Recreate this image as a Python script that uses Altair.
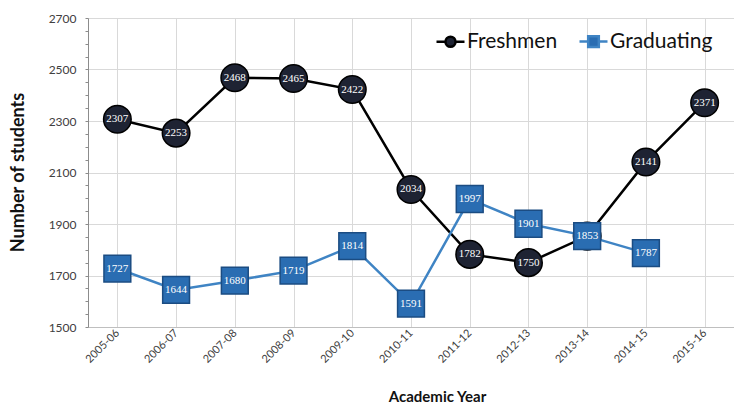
import altair as alt
import pandas as pd

years = ["2005-06", "2006-07", "2007-08", "2008-09", "2009-10", "2010-11",
         "2011-12", "2012-13", "2013-14", "2014-15", "2015-16"]
freshmen = [2307, 2253, 2468, 2465, 2422, 2034, 1782, 1750, 1853, 2141, 2371]
graduating = [1727, 1644, 1680, 1719, 1814, 1591, 1997, 1901, 1853, 1787]
series_names = ["Freshmen", "Graduating"]
y_ticks = [1500, 1700, 1900, 2100, 2300, 2500, 2700]
y_minor = list(range(1500, 2701, 50))

rows = []
for yr, v in zip(years, freshmen):
    rows.append({"year": yr, "series": "Freshmen", "value": v})
for yr, v in zip(years, graduating):
    rows.append({"year": yr, "series": "Graduating", "value": v})
df = pd.DataFrame(rows)

FONT = "Lato"
x_scale = alt.Scale(domain=years, paddingInner=0, paddingOuter=0)
y_scale = alt.Scale(domain=[1500, 2700], nice=False, zero=False)

x_lab = alt.X("year:N", scale=x_scale, sort=years,
              axis=alt.Axis(orient="bottom", title="Academic Year", labelAngle=-45,
                            labelAlign="right", labelBaseline="middle", labelFontSize=11,
                            labelColor="#404040", labelFont=FONT, labelPadding=4, tickSize=0,
                            grid=False, domainColor="#bfbfbf", titleFont=FONT,
                            titleFontSize=15, titleFontWeight="bold", titleColor="#111111",
                            titleX=349, titleY=69, titleBaseline="middle",
                            titleAlign="center", titleAnchor=None))
x_grid = alt.X("year:N", scale=x_scale, sort=years,
               axis=alt.Axis(orient="bottom", title=None, labels=False, ticks=False,
                             domain=False, grid=True, bandPosition=0, gridColor="#d9d9d9"))
x_plain = alt.X("year:N", scale=x_scale, sort=years, axis=None)

y_main = alt.Y("value:Q", scale=y_scale,
               axis=alt.Axis(orient="left", title="Number of students", values=y_ticks,
                             format="d", labelFontSize=12, labelColor="#404040",
                             labelFont=FONT, tickSize=0, labelPadding=12,
                             gridColor="#d9d9d9", domainColor="#8c8c8c", titleFont=FONT,
                             titleFontSize=18, titleFontWeight="bold", titleColor="#111111",
                             titleX=-70, titleY=154, titleBaseline="middle",
                             titleAlign="center", titleAngle=270))
y_ticks_enc = alt.Y("value:Q", scale=y_scale,
                    axis=alt.Axis(orient="left", title=None, values=y_minor, labels=False,
                                  grid=False, domain=False, tickSize=3, tickColor="#8c8c8c",
                                  tickOffset=0))
y_plain = alt.Y("value:Q", scale=y_scale, axis=None)

base = alt.Chart(df)

grid_layer = base.mark_point(opacity=0).encode(x=x_grid, y=y_main)
axis_layer = base.mark_point(opacity=0).encode(x=x_lab, y=y_ticks_enc)

stroke_scale = alt.Scale(domain=series_names, range=["#000000", "#3f84c4"])
fill_scale = alt.Scale(domain=series_names, range=["#1e2333", "#2a6db2"])
circ_path = ("M-1,0H-0.36 M0.36,0H1 M0.36,0A0.36,0.36,0,1,1,-0.36,0"
             "A0.36,0.36,0,1,1,0.36,0Z")
sq_path = "M-1,0H-0.38 M0.38,0H1 M-0.38,-0.38H0.38V0.38H-0.38Z"
shape_scale = alt.Scale(domain=series_names, range=[circ_path, sq_path])

legend = alt.Legend(title=None, orient="none", legendX=347, legendY=8, direction="horizontal",
                    labelFontSize=21, labelFont=FONT, labelColor="#111111",
                    symbolSize=784, symbolStrokeWidth=2.5, columnPadding=16,
                    labelOffset=1, symbolOpacity=1)

lines = base.mark_line(strokeWidth=2.5).encode(
    x=x_plain, y=y_plain,
    stroke=alt.Stroke("series:N", scale=stroke_scale, legend=legend),
    order=alt.Order("series:N", sort="descending"),
)

carrier = base.transform_filter("false").mark_point(
    filled=True, strokeWidth=2.5, opacity=1).encode(
    x=x_plain, y=y_plain,
    fill=alt.Fill("series:N", scale=fill_scale, legend=legend),
    stroke=alt.Stroke("series:N", scale=stroke_scale, legend=legend),
    shape=alt.Shape("series:N", scale=shape_scale, legend=legend),
)

circles = base.transform_filter(alt.datum.series == "Freshmen").mark_point(
    shape="circle", size=760, filled=True, fill="#1e2333", stroke="#000000",
    strokeWidth=1.5, opacity=1).encode(x=x_plain, y=y_plain)
squares = base.transform_filter(alt.datum.series == "Graduating").mark_point(
    shape="square", size=720, filled=True, fill="#2a6db2", stroke="#1b4c82",
    strokeWidth=1.5, opacity=1).encode(x=x_plain, y=y_plain)

circ_text = base.transform_filter(alt.datum.series == "Freshmen").mark_text(
    color="white", font="Liberation Serif", fontSize=11).encode(
    x=x_plain, y=y_plain, text="value:Q")
sq_text = base.transform_filter(alt.datum.series == "Graduating").mark_text(
    color="white", font="Liberation Serif", fontSize=11).encode(
    x=x_plain, y=y_plain, text="value:Q")

chart = alt.layer(grid_layer, axis_layer, lines, carrier, circles, circ_text, squares, sq_text).resolve_axis(
    x="independent", y="independent"
).properties(
    width=646, height=309,
    autosize=alt.AutoSizeParams(type="none"),
    padding={"left": 88, "top": 18, "right": 0, "bottom": 79},
    background="white",
).configure_view(stroke=None)

chart.save("out.html", embed_options={"renderer": "svg", "actions": False})
